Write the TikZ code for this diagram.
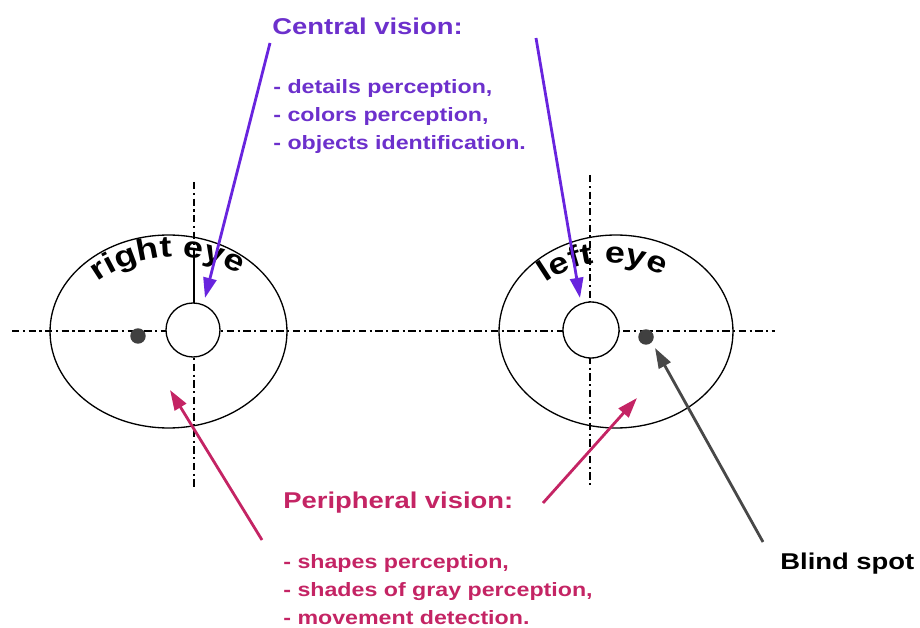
\documentclass[tikz,border=0pt]{standalone}
\usepackage{fontspec}
\setmainfont{Liberation Sans}
\newfontfamily\lab{Liberation Sans}[FakeStretch=1.2]
\usetikzlibrary{arrows.meta,shapes.geometric,decorations.text,calc}
\definecolor{cvtext}{RGB}{108,48,204}
\definecolor{cvarrow}{RGB}{104,36,222}
\definecolor{pvcol}{RGB}{196,36,100}
\definecolor{bsarrow}{RGB}{72,72,72}
\definecolor{dotcol}{RGB}{64,64,64}
\newcommand\headfont{\lab\bfseries\fontsize{13}{15}\selectfont}
\newcommand\itemfont{\lab\bfseries\fontsize{11}{13}\selectfont}
\newcommand\eyefont{\lab\bfseries\fontsize{17}{20}\selectfont}
\tikzset{
  axis/.style={line width=0.7pt, dash pattern=on 4.2pt off 2pt on 1.2pt off 2pt},
  eyeball/.style={ellipse, draw, line width=0.75pt, inner sep=0pt},
  fovea/.style={circle, draw, fill=white, line width=0.75pt, inner sep=0pt},
  spot/.style={circle, fill=dotcol, inner sep=0pt, minimum size=0.31cm},
  arr/.style={line width=1.6pt, -{Triangle[length=11.5pt, width=7.5pt]}},
  lbl/.style={anchor=base west, inner sep=0pt},
}
\begin{document}
\begin{tikzpicture}[x=0.02cm, y=-0.02cm]
\useasboundingbox (0,0) rectangle (920,628);
% axes
\draw[axis] (12,331) -- (775,331);
\draw[axis] (194,182) -- (194,487);
\draw[axis] (590,175) -- (590,487);
\draw[line width=0.7pt] (194,252) -- (194,303);
% eyes
\node[eyeball, minimum width=4.74cm, minimum height=3.86cm] (reye) at (168.5,331.5) {};
\node[eyeball, minimum width=4.68cm, minimum height=3.86cm] (leye) at (616,331.5) {};
\node[fovea, minimum size=1.08cm] (rfov) at (193,330) {};
\node[fovea, minimum size=1.12cm] (lfov) at (591,330) {};
\node[spot] (rspot) at (138,336) {};
\node[spot] (lspot) at (646,337) {};
% curved eye labels
\path[decorate, decoration={text along path, text={|\eyefont|right eye}, text align=center}]
  ($(175,388)+(126.6:2.62cm)$) arc[start angle=126.6, end angle=60, radius=2.62cm];
\path[decorate, decoration={text along path, text={|\eyefont|left eye}, text align=center}]
  ($(609,372)+(127.2:2.19cm)$) arc[start angle=127.2, end angle=59.4, radius=2.19cm];
% texts
\node[lbl, text=cvtext, font=\headfont] (cvhead) at (272,35) {Central vision:};
\node[lbl, text=cvtext, font=\itemfont] (cv1) at (273,94) {- details perception,};
\node[lbl, text=cvtext, font=\itemfont] (cv2) at (273,122) {- colors perception,};
\node[lbl, text=cvtext, font=\itemfont] (cv3) at (273,150) {- objects identification.};
\node[lbl, text=pvcol, font=\headfont] (pvhead) at (283,508) {Peripheral vision:};
\node[lbl, text=pvcol, font=\itemfont] (pv1) at (283,568) {- shapes perception,};
\node[lbl, text=pvcol, font=\itemfont] (pv2) at (283,596) {- shades of gray perception,};
\node[lbl, text=pvcol, font=\itemfont] (pv3) at (283,624) {- movement detection.};
\node[lbl, text=black, font=\headfont] (bs) at (780,569) {Blind spot};
% arrow ends
\coordinate (cs1) at (270,43);
\coordinate (ct1) at (205,298);
\coordinate (cs2) at (536,38);
\coordinate (ct2) at (580,298);
\coordinate (ps1) at (262,540);
\coordinate (pt1) at (170,390);
\coordinate (ps2) at (543,503);
\coordinate (pt2) at (637,398);
\coordinate (bss) at (763,542);
\coordinate (bst) at (655,348);
\draw[arr, cvarrow] (cs1) -- (ct1);
\draw[arr, cvarrow] (cs2) -- (ct2);
\draw[arr, pvcol] (ps1) -- (pt1);
\draw[arr, pvcol] (ps2) -- (pt2);
\draw[arr, bsarrow] (bss) -- (bst);
\end{tikzpicture}
\end{document}
